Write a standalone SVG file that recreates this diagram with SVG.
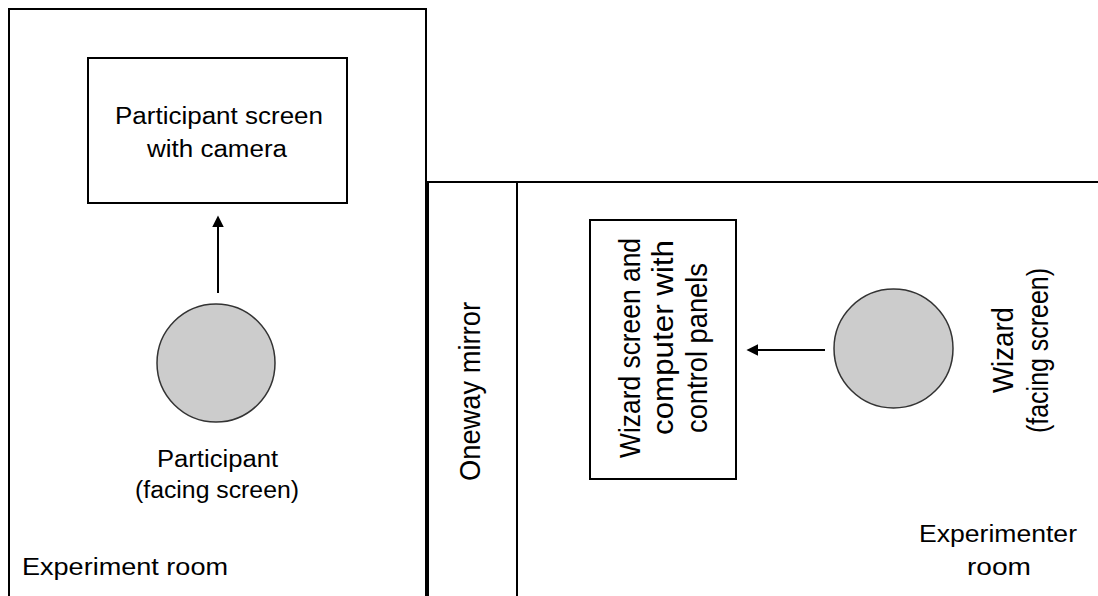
<svg xmlns="http://www.w3.org/2000/svg" width="1098" height="596" viewBox="0 0 1098 596">
<style>
.wall{fill:none;stroke:#000;stroke-width:2}
.box{fill:#fff;stroke:#000;stroke-width:2}
.person{fill:#cccccc;stroke:#333;stroke-width:1.5}
.conn{stroke:#000;stroke-width:2;fill:none}
.h{font-family:"Liberation Sans",Arial,sans-serif;font-size:23px;fill:#000}
.v{font-family:"Liberation Sans",Arial,sans-serif;font-size:29px;fill:#000}
</style>
<defs>
<marker id="arr" markerUnits="userSpaceOnUse" markerWidth="12" markerHeight="12" viewBox="0 0 11 11" refX="5" refY="5.5" orient="auto">
<path d="M0,0 L11,5.5 L0,11 z" fill="#000"/>
</marker>
</defs>
<rect width="1098" height="596" fill="#fff"/>
<g id="experiment-room">
<path class="wall" d="M9,600 V9 H426 V600"/>
<text class="h" x="22" y="575" textLength="206" lengthAdjust="spacingAndGlyphs">Experiment room</text>
</g>
<g id="mirror">
<path class="wall" d="M428,600 V182 H1100"/>
<path class="wall" d="M517,182 V600"/>
<text class="v" transform="translate(480,481) rotate(-90)" textLength="179" lengthAdjust="spacingAndGlyphs">Oneway mirror</text>
</g>
<g id="experimenter-room">
<text class="h" x="919" y="542" textLength="158" lengthAdjust="spacingAndGlyphs">Experimenter</text>
<text class="h" x="967" y="575" textLength="64" lengthAdjust="spacingAndGlyphs">room</text>
</g>
<g id="participant-screen">
<rect class="box" x="88" y="58" width="259" height="145"/>
<text class="h" x="115" y="124" textLength="208" lengthAdjust="spacingAndGlyphs">Participant screen</text>
<text class="h" x="147" y="157" textLength="140" lengthAdjust="spacingAndGlyphs">with camera</text>
</g>
<g id="participant">
<circle class="person" cx="216" cy="363" r="59"/>
<text class="h" x="157" y="467" textLength="121" lengthAdjust="spacingAndGlyphs">Participant</text>
<text class="h" x="135" y="498" textLength="164" lengthAdjust="spacingAndGlyphs">(facing screen)</text>
</g>
<g id="wizard-screen">
<rect class="box" x="590" y="220" width="146" height="259"/>
<text class="v" transform="translate(640,458) rotate(-90)" textLength="220" lengthAdjust="spacingAndGlyphs">Wizard screen and</text>
<text class="v" transform="translate(673,435) rotate(-90)" textLength="195" lengthAdjust="spacingAndGlyphs">computer with</text>
<text class="v" transform="translate(707,433) rotate(-90)" textLength="170" lengthAdjust="spacingAndGlyphs">control panels</text>
</g>
<g id="wizard">
<circle class="person" cx="893.5" cy="348.5" r="59.5"/>
<text class="v" transform="translate(1013,393) rotate(-90)" textLength="86" lengthAdjust="spacingAndGlyphs">Wizard</text>
<text class="v" transform="translate(1048,433) rotate(-90)" textLength="165" lengthAdjust="spacingAndGlyphs">(facing screen)</text>
</g>
<g id="connectors">
<line class="conn" x1="218" y1="293" x2="218" y2="222" marker-end="url(#arr)"/>
<line class="conn" x1="825" y1="350" x2="753" y2="350" marker-end="url(#arr)"/>
</g>
</svg>
